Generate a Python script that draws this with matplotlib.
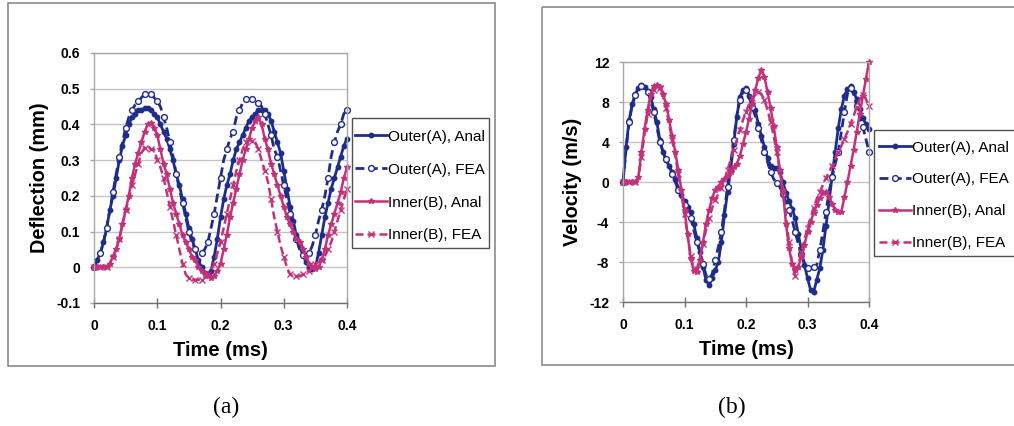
import numpy as np
import matplotlib
matplotlib.use("Agg")
import matplotlib.pyplot as plt
from matplotlib.lines import Line2D
from matplotlib.patches import Rectangle

# ---------------- data ----------------
t_ms = [round(0.005 * i, 3) for i in range(81)]

# Deflection (mm)
defl_outer_anal = [0.00, 0.02, 0.04, 0.07, 0.11, 0.16, 0.20, 0.25, 0.30, 0.34,
                   0.37, 0.40, 0.42, 0.43, 0.44, 0.44, 0.445, 0.445, 0.44, 0.43,
                   0.42, 0.40, 0.38, 0.36, 0.33, 0.30, 0.26, 0.23, 0.19, 0.15,
                   0.11, 0.08, 0.05, 0.02, 0.00, -0.015, -0.02, -0.01, 0.03, 0.08,
                   0.14, 0.19, 0.23, 0.26, 0.30, 0.33, 0.35, 0.37, 0.39, 0.41,
                   0.42, 0.43, 0.44, 0.44, 0.44, 0.43, 0.41, 0.38, 0.35, 0.32,
                   0.27, 0.22, 0.17, 0.13, 0.09, 0.06, 0.035, 0.015, 0.00, -0.005,
                   0.00, 0.04, 0.09, 0.14, 0.18, 0.22, 0.25, 0.28, 0.31, 0.34,
                   0.36]
defl_outer_fea = [0.00, 0.02, 0.04, 0.07, 0.11, 0.16, 0.21, 0.26, 0.31, 0.35,
                  0.39, 0.42, 0.44, 0.455, 0.465, 0.475, 0.485, 0.485, 0.485, 0.475,
                  0.465, 0.45, 0.42, 0.39, 0.35, 0.31, 0.26, 0.22, 0.18, 0.14,
                  0.10, 0.07, 0.05, 0.04, 0.04, 0.05, 0.07, 0.11, 0.15, 0.20,
                  0.25, 0.30, 0.33, 0.36, 0.38, 0.42, 0.44, 0.46, 0.47, 0.47,
                  0.47, 0.47, 0.46, 0.45, 0.43, 0.40, 0.37, 0.33, 0.31, 0.27,
                  0.23, 0.19, 0.15, 0.11, 0.08, 0.05, 0.035, 0.03, 0.04, 0.06,
                  0.09, 0.13, 0.16, 0.20, 0.25, 0.31, 0.35, 0.38, 0.40, 0.43,
                  0.44]
defl_inner_anal = [0.00, 0.00, 0.00, 0.00, 0.00, 0.01, 0.03, 0.05, 0.08, 0.12,
                   0.16, 0.20, 0.25, 0.29, 0.32, 0.35, 0.38, 0.40, 0.405, 0.39,
                   0.37, 0.33, 0.29, 0.26, 0.22, 0.18, 0.15, 0.12, 0.09, 0.07,
                   0.05, 0.03, 0.02, 0.00, -0.01, -0.02, -0.025, -0.03, -0.025, -0.01,
                   0.01, 0.05, 0.09, 0.14, 0.18, 0.22, 0.26, 0.30, 0.33, 0.36,
                   0.39, 0.41, 0.42, 0.40, 0.36, 0.33, 0.29, 0.26, 0.23, 0.20,
                   0.17, 0.14, 0.12, 0.10, 0.08, 0.07, 0.05, 0.03, 0.01, 0.00,
                   -0.005, 0.00, 0.02, 0.05, 0.09, 0.12, 0.15, 0.18, 0.21, 0.25,
                   0.28]
defl_inner_fea = [0.00, 0.00, 0.00, 0.00, 0.00, 0.01, 0.03, 0.05, 0.08, 0.12,
                  0.16, 0.19, 0.23, 0.26, 0.29, 0.32, 0.335, 0.34, 0.33, 0.33,
                  0.30, 0.28, 0.25, 0.21, 0.17, 0.13, 0.09, 0.05, 0.01, -0.02,
                  -0.03, -0.035, -0.035, -0.035, -0.035, -0.03, -0.02, -0.01, 0.01, 0.04,
                  0.07, 0.11, 0.15, 0.19, 0.23, 0.27, 0.30, 0.33, 0.35, 0.36,
                  0.355, 0.35, 0.33, 0.30, 0.27, 0.24, 0.19, 0.14, 0.10, 0.06,
                  0.03, 0.00, -0.02, -0.025, -0.025, -0.025, -0.02, -0.015, -0.01, 0.00,
                  0.01, 0.015, 0.02, 0.03, 0.05, 0.07, 0.10, 0.13, 0.16, 0.19,
                  0.22]

# Velocity (m/s)
vel_outer_anal = [0.0, 3.5, 6.2, 7.8, 8.8, 9.4, 9.7, 9.5, 9.1, 8.5,
                  7.3, 6.0, 4.2, 3.0, 2.2, 1.6, 1.0, 0.3, -0.6, -1.3,
                  -1.9, -2.5, -3.0, -4.2, -5.6, -7.0, -8.5, -9.8, -10.3, -9.6,
                  -8.8, -8.0, -6.0, -3.3, -1.0, 1.2, 3.8, 6.5, 8.5, 9.2,
                  9.4, 8.6, 7.8, 7.2, 5.8, 4.6, 3.5, 2.4, 1.6, 1.4,
                  1.4, 1.0, 0.0, -1.1, -1.9, -2.7, -3.6, -5.2, -6.8, -8.3,
                  -9.6, -10.8, -11.0, -9.8, -8.6, -6.8, -4.4, -2.0, 0.6, 3.0,
                  5.4, 7.3, 8.6, 9.3, 9.6, 9.0, 8.3, 7.3, 6.4, 5.8,
                  5.3]
vel_outer_fea = [0.0, 3.3, 6.0, 7.7, 8.7, 9.3, 9.6, 9.4, 9.0, 8.2,
                 7.0, 5.5, 4.0, 3.0, 2.3, 1.6, 0.8, 0.0, -0.8, -1.5,
                 -2.3, -2.9, -3.6, -4.8, -6.0, -7.0, -8.2, -9.3, -9.7, -9.2,
                 -7.8, -6.5, -5.0, -2.8, -0.5, 1.8, 4.2, 6.6, 8.2, 9.0,
                 9.2, 8.5, 7.5, 6.6, 5.4, 4.2, 3.0, 2.0, 1.0, 0.3,
                 -0.1, -0.5, -1.2, -2.0, -2.8, -3.8, -5.0, -6.2, -7.2, -8.1,
                 -8.6, -8.7, -8.5, -8.3, -6.8, -5.0, -3.0, -1.0, 0.5, 1.8,
                 3.0, 5.0, 7.0, 8.8, 9.4, 8.8, 7.6, 6.5, 5.5, 4.3,
                 3.0]
vel_inner_anal = [0.0, 0.0, 0.0, 0.0, 0.0, 0.5, 3.0, 5.3, 7.2, 8.8,
                  9.6, 9.7, 9.5, 8.8, 7.8, 6.2, 4.6, 3.0, 1.2, -0.8,
                  -2.8, -5.2, -7.6, -8.9, -9.0, -7.8, -6.0, -4.2, -2.8, -1.6,
                  -0.8, -0.5, 0.0, 0.3, 0.6, 1.0, 1.5, 1.8, 2.6, 3.8,
                  5.0, 6.3, 7.8, 9.2, 10.4, 11.2, 10.5, 9.0, 7.4, 5.6,
                  3.5, 1.2, -0.8, -4.2, -6.6, -8.2, -8.8, -8.5, -7.5, -6.3,
                  -5.0, -4.0, -3.1, -2.3, -1.6, -1.1, -1.0, -1.5, -2.2, -2.8,
                  -3.0, -3.0, -1.5, 0.0, 1.6, 3.2, 5.0, 6.8, 8.6, 10.3,
                  12.0]
vel_inner_fea = [0.0, 0.0, 0.0, 0.0, 0.0, 0.3, 2.5, 4.8, 6.8, 8.3,
                 9.2, 9.6, 9.4, 8.6, 7.4, 5.8, 4.2, 2.6, 0.8, -1.2,
                 -3.2, -5.4, -7.4, -8.6, -8.7, -7.6, -6.2, -4.8, -3.6, -2.6,
                 -1.8, -1.2, -0.6, 0.2, 1.2, 2.2, 3.2, 4.2, 5.2, 6.2,
                 7.0, 7.8, 8.4, 8.8, 9.0, 8.8, 8.2, 7.2, 6.0, 4.6,
                 3.0, 1.2, -1.0, -3.5, -6.0, -8.2, -9.4, -8.4, -7.0, -5.8,
                 -4.6, -3.6, -2.6, -1.7, -1.0, -0.3, 0.4, 1.0, 1.6, 2.3,
                 3.0, 3.6, 4.3, 5.0, 5.8, 6.6, 7.5, 8.3, 8.7, 8.3,
                 7.6]

series_labels = ["Outer(A), Anal", "Outer(A), FEA", "Inner(B), Anal", "Inner(B), FEA"]
x_ticks = [0, 0.1, 0.2, 0.3, 0.4]
x_ticklabels = ["0", "0.1", "0.2", "0.3", "0.4"]
defl_ticks = [-0.1, 0, 0.1, 0.2, 0.3, 0.4, 0.5, 0.6]
defl_ticklabels = ["-0.1", "0", "0.1", "0.2", "0.3", "0.4", "0.5", "0.6"]
vel_ticks = [-12, -8, -4, 0, 4, 8, 12]
vel_ticklabels = ["-12", "-8", "-4", "0", "4", "8", "12"]

# ---------------- style ----------------
W, H = 1014, 426
BLUE = "#1f2d8a"
MAG = "#c3317a"
GRID = "#c4c4c4"
plt.rcParams["font.family"] = ["Liberation Sans", "DejaVu Sans"]

styles = [
    dict(color=BLUE, lw=2.0, ls="-", marker="o", ms=3.2, mfc=BLUE, mec=BLUE, markevery=1),
    dict(color=BLUE, lw=2.0, ls=(0, (3.2, 1.6)), marker="o", ms=4.2, mfc="white", mec=BLUE, mew=1.0, markevery=2),
    dict(color=MAG, lw=1.8, ls="-", marker="*", ms=4.0, mfc=MAG, mec=MAG, markevery=1),
    dict(color=MAG, lw=1.8, ls=(0, (3.2, 1.6)), marker="x", ms=3.8, mfc=MAG, mec=MAG, mew=1.0, markevery=2),
]

fig = plt.figure(figsize=(W / 100, H / 100), dpi=100)
fig.patch.set_facecolor("white")

# overlay in pixel coords for chart-area frames, legend boxes and captions
over = fig.add_axes([0, 0, 1, 1], zorder=-5)
over.set_xlim(0, W)
over.set_ylim(H, 0)
over.axis("off")
over.add_patch(Rectangle((8, 3), 487, 363, fill=False, ec="#8a8a8a", lw=1.2))
over.add_patch(Rectangle((542, 7), 480, 358, fill=False, ec="#8a8a8a", lw=1.2))
over.text(226, 407, "(a)", family=["Liberation Serif", "DejaVu Serif"], fontsize=17,
          ha="center", va="center")
over.text(732, 407, "(b)", family=["Liberation Serif", "DejaVu Serif"], fontsize=17,
          ha="center", va="center")

top = fig.add_axes([0, 0, 1, 1], zorder=10)
top.set_xlim(0, W)
top.set_ylim(H, 0)
top.axis("off")
top.add_patch(Rectangle((352, 118), 137, 130, fill=False, ec="#505050", lw=1.0))
top.add_patch(Rectangle((874, 130), 160, 126, fill=False, ec="#505050", lw=1.0))


def px_axes(x0, y0, x1, y1):
    return fig.add_axes([x0 / W, 1 - y1 / H, (x1 - x0) / W, (y1 - y0) / H])


def style_axes(ax, yticks, yticklabels, ylim, ylabel, ylabelpad):
    ax.set_xlim(0, 0.4)
    ax.set_ylim(*ylim)
    ax.set_xticks(x_ticks)
    ax.set_xticklabels(x_ticklabels, fontsize=10, fontweight="bold")
    ax.set_yticks(yticks)
    ax.set_yticklabels(yticklabels, fontsize=10, fontweight="bold")
    ax.grid(axis="y", color=GRID, lw=1.0)
    ax.set_axisbelow(True)
    for s in ["top", "right", "left"]:
        ax.spines[s].set_color("#a8a8a8")
        ax.spines[s].set_linewidth(1.0)
    ax.spines["bottom"].set_color("#707070")
    ax.spines["bottom"].set_linewidth(1.0)
    ax.tick_params(axis="x", direction="inout", length=7, width=1, color="#707070", pad=8)
    ax.tick_params(axis="y", direction="out", length=3, width=1, color="#a8a8a8", pad=7)
    ax.set_xlabel("Time (ms)", fontsize=14.5, fontweight="bold", labelpad=6)
    ax.set_ylabel(ylabel, fontsize=14.3, fontweight="bold", labelpad=ylabelpad)


# ---- (a) deflection ----
axa = px_axes(94, 53, 347, 303)
for y, st in zip([defl_outer_anal, defl_outer_fea, defl_inner_anal, defl_inner_fea], styles):
    axa.plot(t_ms, y, clip_on=False, **st)
style_axes(axa, defl_ticks, defl_ticklabels, (-0.1, 0.6), "Deflection (mm)", 5)

# ---- (b) velocity ----
axb = px_axes(623, 62, 869, 302)
for y, st in zip([vel_outer_anal, vel_outer_fea, vel_inner_anal, vel_inner_fea], styles):
    axb.plot(t_ms, y, clip_on=False, **st)
style_axes(axb, vel_ticks, vel_ticklabels, (-12, 12), "Velocity (m/s)", 5)

# legends (frame drawn separately above)
handles = []
for lab, st in zip(series_labels, styles):
    s = dict(st)
    s.pop("markevery")
    handles.append(Line2D([0], [0], label=lab, **s))


def add_legend(x0, y_first, spacing):
    fs_px = 11 * 100 / 72
    row_h = 14.0 * 11 / 10.5
    lsp = (spacing - row_h) / fs_px
    leg = fig.legend(handles=handles, loc="upper left",
                     bbox_to_anchor=(x0 / W, 1 - (y_first - row_h / 2) / H), fontsize=11,
                     frameon=False, handlelength=2.1, handletextpad=0.08,
                     labelspacing=lsp, borderpad=0, borderaxespad=0, numpoints=1)
    return leg


add_legend(355, 137, 33.6)
add_legend(879, 148, 32.4)

fig.savefig("out.png", dpi=100, facecolor="white")
